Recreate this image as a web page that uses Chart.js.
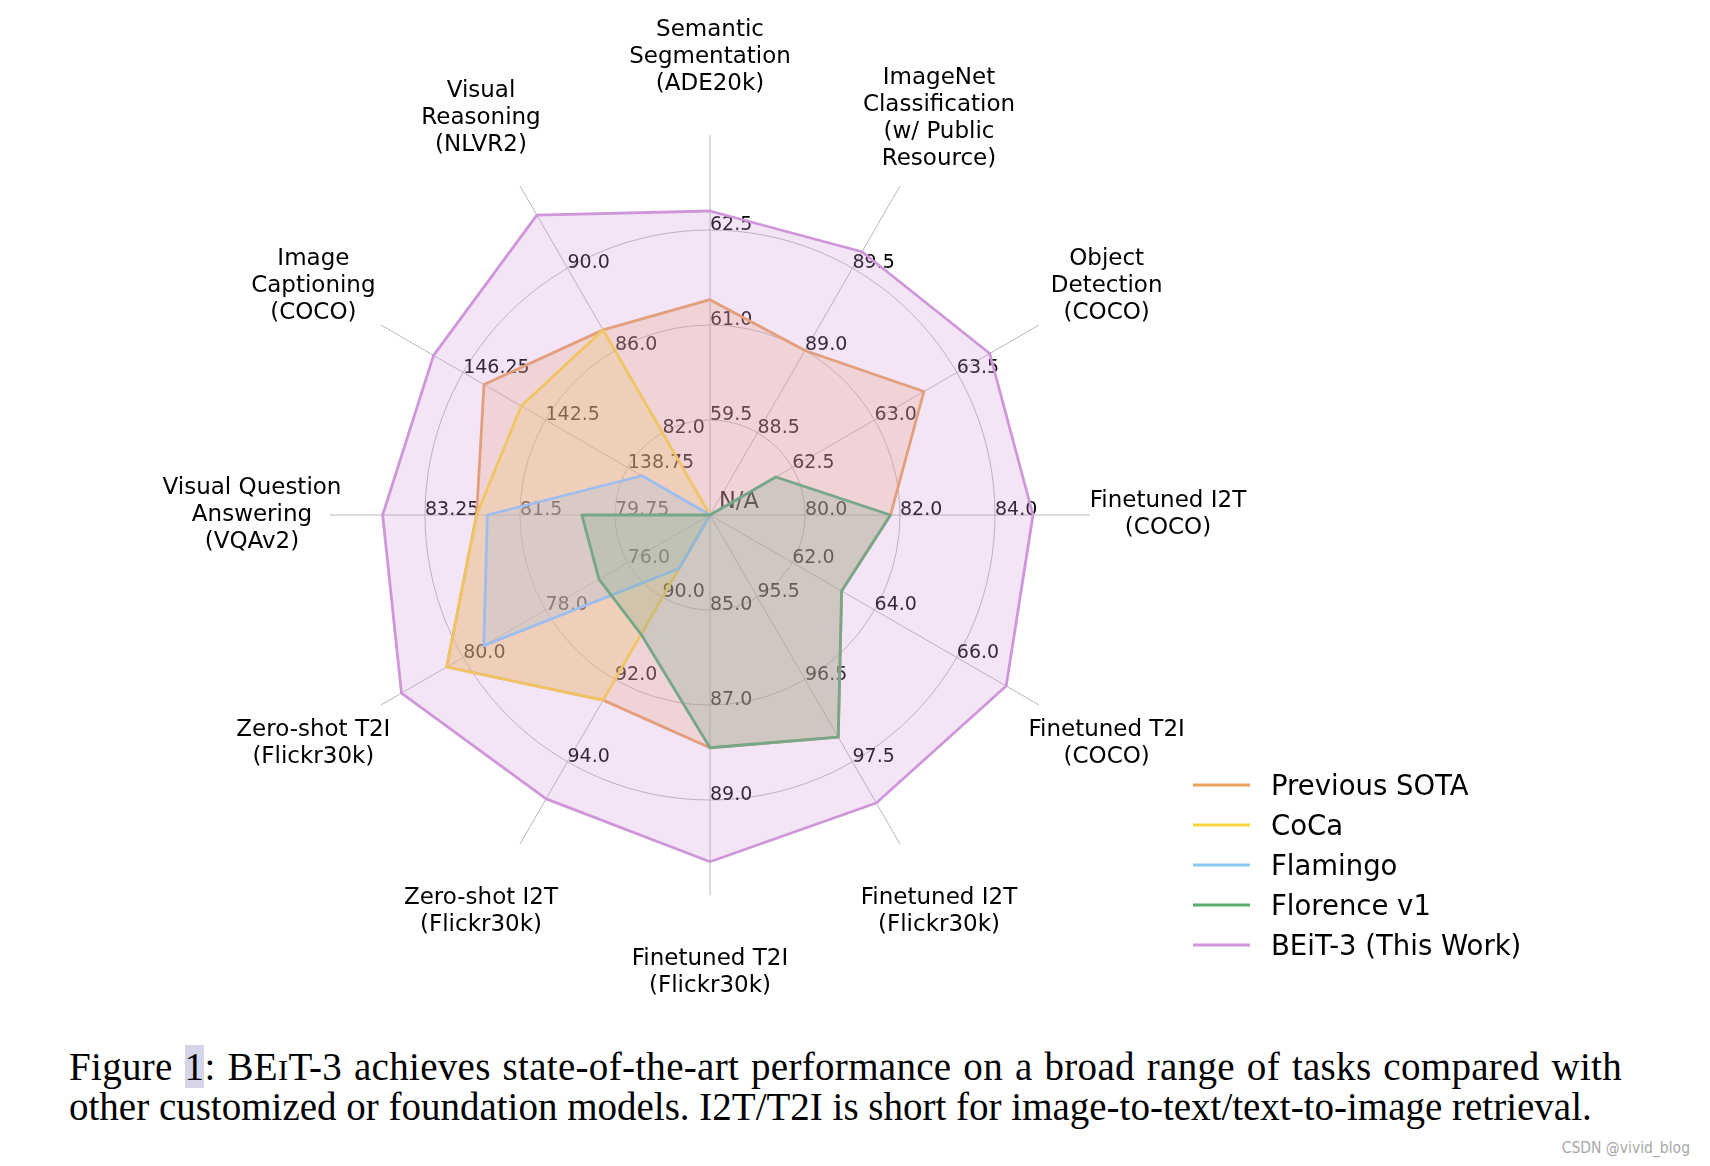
<!DOCTYPE html>
<html>
<head>
<meta charset="utf-8">
<script src="https://cdn.jsdelivr.net/npm/chart.js@4.4.1/dist/chart.umd.min.js"></script>
<style>
  body { margin: 0; background: #fff; width: 1710px; height: 1166px; position: relative; overflow: hidden; }
  #chart { position: absolute; left: 0; top: 0; }
  .cap {
    position: absolute; left: 69px;
    font-family: "Liberation Serif", serif; font-size: 39px; line-height: 40px;
    color: #000; white-space: nowrap;
  }
  #cap1 { top: 1047px; width: 1553px; letter-spacing: 0.3px; text-align: justify; text-align-last: justify; }
  #cap2 { top: 1087px; }
  .hl { background: #d6d6e8; }
  .sc { font-size: 0.78em; }
  #mark {
    position: absolute; right: 20px; top: 1139px;
    font-family: "Liberation Sans Narrow", "DejaVu Sans Condensed", sans-serif;
    font-size: 15.5px; color: #a8a8a8;
  }
</style>
</head>
<body>
<canvas id="chart" width="1710" height="1030"></canvas>
<div class="cap" id="cap1">Figure <span class="hl">1</span>: BE<span class="sc">I</span>T-3 achieves state-of-the-art performance on a broad range of tasks compared with</div>
<div class="cap" id="cap2">other customized or foundation models. I2T/T2I is short for image-to-text/text-to-image retrieval.</div>
<div id="mark">CSDN @vivid_blog</div>
<script>
// axes, clockwise from the top
const tasks = [
  "Semantic\nSegmentation\n(ADE20k)",
  "ImageNet\nClassification\n(w/ Public\nResource)",
  "Object\nDetection\n(COCO)",
  "Finetuned I2T\n(COCO)",
  "Finetuned T2I\n(COCO)",
  "Finetuned I2T\n(Flickr30k)",
  "Finetuned T2I\n(Flickr30k)",
  "Zero-shot I2T\n(Flickr30k)",
  "Zero-shot T2I\n(Flickr30k)",
  "Visual Question\nAnswering\n(VQAv2)",
  "Image\nCaptioning\n(COCO)",
  "Visual\nReasoning\n(NLVR2)"
];

// each axis has its own three rings
const tickLabels = [
  ["59.5", "61.0", "62.5"],
  ["88.5", "89.0", "89.5"],
  ["62.5", "63.0", "63.5"],
  ["80.0", "82.0", "84.0"],
  ["62.0", "64.0", "66.0"],
  ["95.5", "96.5", "97.5"],
  ["85.0", "87.0", "89.0"],
  ["90.0", "92.0", "94.0"],
  ["76.0", "78.0", "80.0"],
  ["79.75", "81.5", "83.25"],
  ["138.75", "142.5", "146.25"],
  ["82.0", "86.0", "90.0"]
];

// null = N/A (drawn at the centre)
const prevSota = [61.4, 89.0, 63.3, 81.8, 63.2, 97.2, 87.9, 92.5, 80.4, 82.3, 145.3, 87.0];
const coca     = [null, null, null, null, null, null, null, 92.5, 80.4, 82.3, 143.6, 87.0];
const flamingo = [null, null, null, null, null, null, null, 89.3, 79.5, 82.1, 138.1, null];
const florence = [null, null, 62.4, 81.8, 63.2, 97.2, 87.9, 90.9, 76.7, 80.36, null, null];
const beit3    = [62.8, 89.6, 63.7, 84.8, 67.2, 98.0, 90.3, 94.9, 81.5, 84.03, 147.6, 92.58];

const seriesNames = ["Previous SOTA", "CoCa", "Flamingo", "Florence v1", "BEiT-3 (This Work)"];
const seriesData = [prevSota, coca, flamingo, florence, beit3];
const seriesColors = ["234,160,92", "250,212,60", "140,202,244", "88,172,108", "208,150,218"];

function toRing(axis, v) {
  if (v === null) return 0;
  const t = tickLabels[axis].map(Number);
  return 1 + (v - t[0]) / (t[1] - t[0]);
}

const overlay = {
  id: "overlay",
  beforeDatasetsDraw(chart) {
    const s = chart.scales.r;
    const ctx = chart.ctx;
    ctx.save();
    ctx.fillStyle = "#000";
    ctx.textAlign = "left";
    ctx.textBaseline = "alphabetic";
    ctx.font = '19px "DejaVu Sans"';
    tickLabels.forEach((labs, i) => {
      labs.forEach((lab, k) => {
        const p = s.getPointPosition(i, s.getDistanceFromCenterForValue(k + 1));
        ctx.fillText(lab, p.x, p.y);
      });
    });
    ctx.font = '22.5px "DejaVu Sans"';
    ctx.fillText("N/A", s.xCenter + 9, s.yCenter - 7);
    ctx.restore();
  },
  afterDraw(chart) {
    const s = chart.scales.r;
    const ctx = chart.ctx;
    ctx.save();
    ctx.fillStyle = "#000";
    ctx.textAlign = "center";
    ctx.textBaseline = "middle";
    ctx.font = '23px "DejaVu Sans"';
    tasks.forEach((t, i) => {
      const lines = t.split("\n");
      const p = s.getPointPosition(i, s.drawingArea * 458 / 380);
      lines.forEach((ln, j) => {
        ctx.fillText(ln, p.x, p.y + (j - (lines.length - 1) / 2) * 27);
      });
    });
    // legend
    ctx.textAlign = "left";
    ctx.textBaseline = "alphabetic";
    ctx.font = '27.5px "DejaVu Sans"';
    seriesNames.forEach((name, i) => {
      const y = 785 + i * 40;
      ctx.strokeStyle = "rgb(" + seriesColors[i] + ")";
      ctx.lineWidth = 3;
      ctx.beginPath();
      ctx.moveTo(1193, y);
      ctx.lineTo(1250, y);
      ctx.stroke();
      ctx.fillText(name, 1271, y + 10);
    });
    ctx.restore();
  }
};

new Chart(document.getElementById("chart").getContext("2d"), {
  type: "radar",
  data: {
    labels: tasks,
    datasets: seriesNames.map((name, i) => ({
      label: name,
      data: seriesData[i].map((v, axis) => toRing(axis, v)),
      borderColor: "rgb(" + seriesColors[i] + ")",
      backgroundColor: "rgba(" + seriesColors[i] + ",0.25)",
      borderWidth: 2.8,
      borderJoinStyle: "round",
      pointRadius: 0,
      fill: true,
      order: seriesNames.length - i
    }))
  },
  options: {
    responsive: false,
    animation: false,
    devicePixelRatio: 1,
    layout: { padding: { left: 330, top: 135, right: 620, bottom: 135 } },
    plugins: { legend: { display: false }, tooltip: { enabled: false } },
    scales: {
      r: {
        min: 0,
        max: 4,
        ticks: { display: false, stepSize: 1 },
        pointLabels: { display: false },
        grid: {
          circular: true,
          lineWidth: 1,
          color: c => (c.tick && c.tick.value === 4) ? "rgba(0,0,0,0)" : "#b8b8b8"
        },
        angleLines: { display: true, color: "#b8b8b8", lineWidth: 1 }
      }
    }
  },
  plugins: [overlay]
});
</script>
</body>
</html>
